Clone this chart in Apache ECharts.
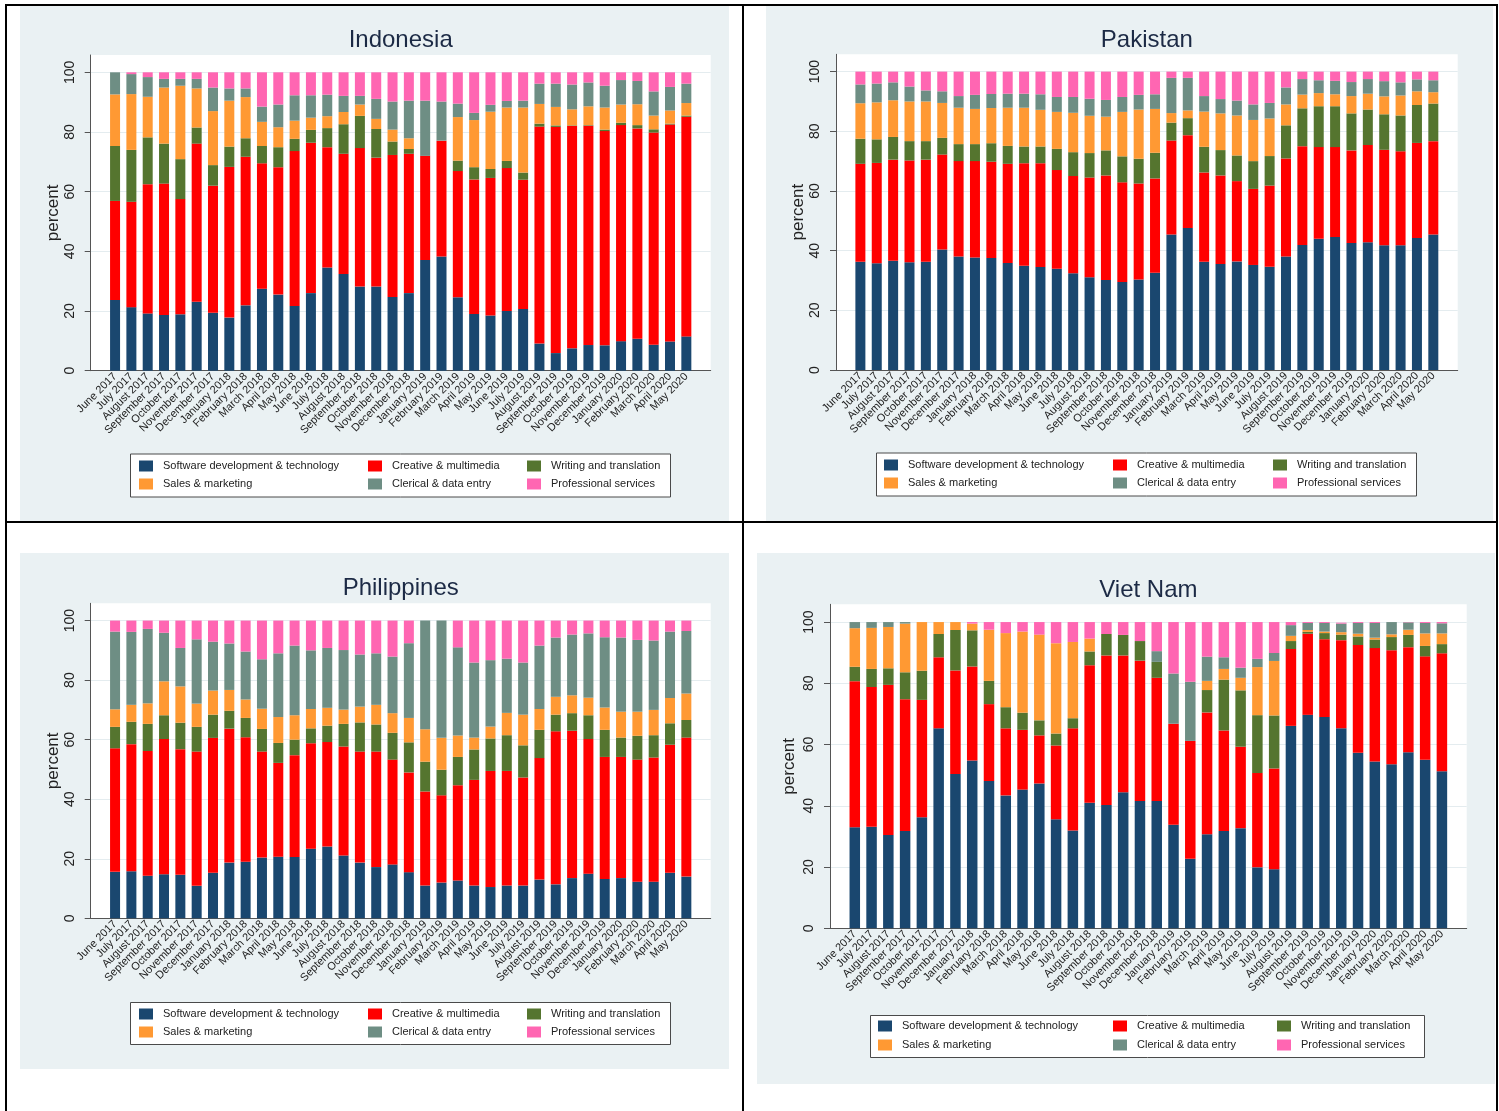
<!DOCTYPE html>
<html>
<head>
<meta charset="utf-8">
<script src="https://cdn.jsdelivr.net/npm/echarts@6/dist/echarts.min.js"></script>
<style>
  html, body { margin:0; padding:0; background:#fff; }
  #page { position:relative; width:1499px; height:1111px; overflow:hidden; background:#fff; }
  .chart { position:absolute; background:#eaf1f3; }
  .ln { position:absolute; background:#000; }
</style>
</head>
<body>
<div id="page">
  <div class="ln" style="left:5px;top:4px;width:1493px;height:2px"></div>
  <div class="ln" style="left:5px;top:4px;width:2px;height:1107px"></div>
  <div class="ln" style="left:742px;top:4px;width:2px;height:1107px"></div>
  <div class="ln" style="left:5px;top:521px;width:1493px;height:2px"></div>
  <div class="ln" style="left:1496px;top:4px;width:2px;height:1107px"></div>
  <div class="chart" id="c1"></div>
  <div class="chart" id="c2"></div>
  <div class="chart" id="c3"></div>
  <div class="chart" id="c4"></div>
</div>
<script>
// ---- categories ----
const months = ['June 2017','July 2017','August 2017','September 2017','October 2017','November 2017','December 2017','January 2018','February 2018','March 2018','April 2018','May 2018','June 2018','July 2018','August 2018','September 2018','October 2018','November 2018','December 2018','January 2019','February 2019','March 2019','April 2019','May 2019','June 2019','July 2019','August 2019','September 2019','October 2019','November 2019','December 2019','January 2020','February 2020','March 2020','April 2020','May 2020'];
const seriesNames = ['Software development & technology','Creative & multimedia','Writing and translation','Sales & marketing','Clerical & data entry','Professional services'];
const yTicks = [0,20,40,60,80,100];

// ---- Indonesia ----
const idnSoftware = [23.7,21.3,19.2,18.7,18.9,23.1,19.4,17.8,21.9,27.5,25.5,21.7,26.0,34.6,32.4,28.2,28.2,24.7,26.0,37.1,38.3,24.6,19.0,18.5,20.0,20.7,9.1,5.9,7.5,8.6,8.5,9.9,10.7,8.7,9.8,11.5];
const idnCreative = [33.2,35.3,43.3,44.0,38.6,53.0,42.6,50.5,49.8,42.0,42.7,51.9,50.4,40.3,40.3,46.4,43.2,47.6,46.7,34.9,38.8,42.3,45.1,46.1,47.9,43.3,72.7,75.8,74.5,73.5,71.8,72.4,70.5,71.1,72.7,73.6];
const idnWriting = [18.4,17.4,15.7,13.4,13.4,5.4,6.9,6.8,6.2,5.8,6.7,4.1,4.3,6.4,9.9,10.8,9.6,4.5,1.6,0,0,3.5,4.1,3.0,2.4,2.4,1.0,0.5,0.2,0.2,0.5,0.8,1.1,1.1,0.3,0.4];
const idnSales = [17.3,18.7,13.6,18.8,24.6,13.1,18.1,15.4,13.8,8.1,6.7,6.1,4.1,4.0,4.1,3.8,3.4,4.0,3.6,0,0,14.6,15.8,19.2,17.9,21.8,6.6,6.2,5.4,6.3,7.4,6.1,7.0,4.6,4.4,4.2];
const idnClerical = [7.4,6.7,6.6,2.9,2.3,3.2,7.9,4.1,2.9,5.1,7.6,8.5,7.5,7.2,5.4,2.9,6.7,9.4,12.6,18.5,13.1,4.5,2.4,2.3,2.2,2.3,6.8,7.8,8.3,8.0,7.3,8.2,7.8,8.1,7.9,6.5];
const idnProfessional = [0,0.6,1.6,2.2,2.2,2.2,5.1,5.4,5.4,11.5,10.8,7.7,7.7,7.5,7.9,7.9,8.9,9.8,9.5,9.5,9.8,10.5,13.6,10.9,9.6,9.5,3.8,3.8,4.1,3.4,4.5,2.6,2.9,6.4,4.9,3.8];

// ---- Pakistan ----
const pakSoftware = [36.3,35.8,36.6,36.1,36.3,40.4,38.0,37.7,37.5,35.9,34.9,34.5,33.9,32.4,31.1,30.2,29.5,30.3,32.6,45.4,47.6,36.3,35.5,36.4,35.2,34.6,38.0,41.9,44.0,44.6,42.6,42.8,41.8,41.8,44.2,45.4];
const pakCreative = [32.8,33.6,33.9,34.1,34.2,31.8,32.0,32.3,32.3,33.2,34.4,34.8,33.1,32.6,33.4,35.0,33.4,32.2,31.6,31.5,31.1,29.9,29.7,26.9,25.5,27.2,32.9,33.1,30.7,30.1,31.0,32.6,32.0,31.5,31.9,31.3];
const pakWriting = [8.4,7.9,7.6,6.5,6.2,5.6,5.7,5.7,6.2,6.0,5.6,5.6,7.1,8.0,8.2,8.4,8.7,8.3,8.6,6.0,5.7,8.6,8.5,8.6,9.3,9.9,11.1,12.7,13.7,13.7,12.4,11.9,11.9,12.0,12.7,12.6];
const pakSales = [11.9,12.4,12.3,13.3,13.3,11.7,12.2,11.8,11.8,12.8,13.0,12.3,12.4,13.2,12.5,11.3,14.9,16.5,14.7,3.2,2.6,11.8,12.3,13.4,13.8,12.6,7.0,4.6,4.4,4.0,5.8,5.3,6.0,6.7,4.6,3.8];
const pakClerical = [6.3,6.3,6.0,5.0,3.7,3.9,3.9,4.7,4.7,4.7,4.7,5.2,5.0,5.3,5.7,5.6,5.0,4.9,4.9,11.8,10.9,5.2,4.8,5.0,5.2,5.2,5.7,5.2,4.3,4.5,4.7,4.9,5.1,4.4,4.0,4.0];
const pakProfessional = [4.3,4.0,3.6,5.0,6.3,6.6,8.2,7.8,7.5,7.4,7.4,7.6,8.5,8.5,9.1,9.5,8.5,7.8,7.6,2.1,2.1,8.2,9.2,9.7,11.0,10.5,5.3,2.5,2.9,3.1,3.5,2.5,3.2,3.6,2.6,2.9];

// ---- Philippines ----
const phlSoftware = [15.6,15.8,14.3,14.8,14.6,10.9,15.3,18.7,19.0,20.4,20.7,20.6,23.4,24.1,21.1,18.7,17.2,18.1,15.5,11.0,12.0,12.7,11.0,10.5,11.0,11.0,13.0,11.4,13.5,15.0,13.2,13.5,12.3,12.3,15.3,14.0];
const phlCreative = [41.5,42.7,41.9,45.4,42.2,45.1,45.3,45.0,41.8,35.6,31.5,34.2,35.4,35.1,36.6,37.3,38.8,35.2,33.5,31.6,29.3,32.0,35.5,39.0,38.5,36.3,40.8,51.4,49.5,45.2,41.0,40.7,41.0,41.7,43.0,46.7];
const phlWriting = [7.2,7.5,9.1,8.0,8.9,8.3,7.8,6.0,6.5,7.6,6.7,5.2,5.0,5.5,7.6,9.8,9.1,9.0,10.1,10.0,8.6,9.5,10.2,10.9,12.0,10.8,9.5,5.6,5.9,8.0,9.1,6.5,8.0,7.5,7.2,5.9];
const phlSales = [5.9,5.7,6.9,11.4,12.2,7.8,8.1,7.0,6.2,6.8,8.7,8.2,6.5,6.0,4.8,5.3,6.6,6.6,8.2,10.9,10.7,7.2,4.0,4.0,7.5,10.3,7.0,6.0,6.0,5.9,7.5,8.7,8.1,8.5,8.5,8.9];
const phlClerical = [26.1,24.5,25.0,16.3,12.9,21.6,16.4,15.6,16.1,16.6,21.4,23.4,19.7,20.1,20.0,17.5,17.3,19.0,25.1,36.5,39.4,29.6,25.2,22.3,18.2,17.5,21.3,19.9,20.4,21.6,23.6,24.9,24.1,23.3,22.3,21.0];
const phlProfessional = [3.7,3.8,2.8,4.1,9.2,6.3,7.1,7.7,10.4,13.0,11.0,8.4,10.0,9.2,9.9,11.4,11.0,12.1,7.6,0,0,9.0,14.1,13.3,12.8,14.1,8.4,5.7,4.7,4.3,5.6,5.7,6.5,6.7,3.7,3.5];

// ---- Viet Nam ----
const vnmSoftware = [33.0,33.2,30.5,31.8,36.3,65.3,50.4,54.8,48.1,43.4,45.3,47.3,35.6,31.9,41.0,40.3,44.4,41.6,41.6,33.8,22.7,30.7,31.8,32.7,19.9,19.3,66.1,69.7,69.0,65.3,57.3,54.5,53.6,57.5,55.0,51.3];
const vnmCreative = [47.7,45.6,49.0,43.0,38.3,23.2,33.8,30.7,25.1,21.9,19.5,15.7,24.1,33.4,44.9,48.8,44.7,45.8,40.2,33.0,38.5,39.8,32.8,26.6,30.8,32.9,25.1,26.5,25.4,28.8,35.2,37.0,37.2,34.3,33.8,38.5];
const vnmWriting = [4.7,5.9,5.4,8.8,9.5,7.6,13.2,11.8,7.6,6.9,5.6,4.9,3.9,3.3,4.5,7.0,6.7,6.4,5.2,0,0,7.3,16.6,18.4,18.9,17.3,2.6,0.6,2.0,1.8,2.8,2.8,4.3,4.0,3.4,3.0];
const vnmSales = [12.6,13.4,13.5,15.9,15.9,3.9,2.6,2.2,16.7,24.2,26.5,28.0,29.5,24.9,4.2,0,0,0,0,0,0,3.0,3.5,4.1,15.7,17.8,1.7,0.6,0.5,0.8,0.9,0.6,0.9,1.7,4.1,3.5];
const vnmClerical = [2.0,1.9,1.6,0.5,0,0,0,0,0,0,0,0,0,0,0,0,0,0,3.5,16.4,19.3,7.9,3.8,3.3,2.7,2.6,3.5,2.3,2.8,2.8,3.5,4.8,4.0,2.4,3.4,3.3];
const vnmProfessional = [0,0,0,0,0,0,0,0.5,2.5,3.6,3.1,4.1,6.9,6.5,5.4,3.9,4.2,6.2,9.5,16.8,19.5,11.3,11.5,14.9,12.0,10.1,1.0,0.3,0.3,0.3,0.3,0.3,0,0.1,0.3,0.4];

// ---- layout (page coordinates) ----
const colors = ['#1a476f','#ff0000','#55752f','#ff9933','#6e8e84','#ff66b2'];
const FONT = '"Liberation Sans", Arial, sans-serif';
const panels = [
  { id:'c1', title:'Indonesia', titleY:38, box:[20,6,709,515], grid:[90.7,55,710.7,370.7], pad:16.2, nameGap:29,
    values:[idnSoftware,idnCreative,idnWriting,idnSales,idnClerical,idnProfessional],
    lbox:[130,453.5,540,43], cols:[139,368,527], row1:466, rowGap:18, barW:10 },
  { id:'c2', title:'Pakistan', titleY:38, box:[766,6,727,515], grid:[836,54.3,1457.7,370], pad:16.2, nameGap:29,
    values:[pakSoftware,pakCreative,pakWriting,pakSales,pakClerical,pakProfessional],
    lbox:[876,452.5,540,43], cols:[884,1113,1273], row1:465, rowGap:18, barW:10 },
  { id:'c3', title:'Philippines', titleY:586, box:[20,553,709,516], grid:[90.7,603.3,710.7,918.3], pad:16.2, nameGap:29,
    values:[phlSoftware,phlCreative,phlWriting,phlSales,phlClerical,phlProfessional],
    lbox:[130,1002,540,42], cols:[139,368,527], row1:1014, rowGap:18, barW:10 },
  { id:'c4', title:'Viet Nam', titleY:588, box:[757,553,738,531], grid:[830,604.3,1466.7,928.3], pad:16.4, nameGap:32,
    values:[vnmSoftware,vnmCreative,vnmWriting,vnmSales,vnmClerical,vnmProfessional],
    lbox:[870,1015,554,42], cols:[878,1113,1277], row1:1026, rowGap:19, barW:10.5 }
];

const YMAX = 105.8;

function makeChart(p) {
  const el = document.getElementById(p.id);
  const [ox, oy, w, h] = p.box;
  el.style.left = ox+'px'; el.style.top = oy+'px';
  el.style.width = w+'px'; el.style.height = h+'px';
  const chart = echarts.init(el, null, {renderer:'canvas'});
  const gl = p.grid[0]-ox, gt = p.grid[1]-oy, gw = p.grid[2]-p.grid[0], gh = p.grid[3]-p.grid[1];
  const series = p.values.map((arr,k)=>({
    name: seriesNames[k], type:'bar', stack:'total', barWidth:p.barW,
    xAxisIndex:1, yAxisIndex:1,
    data: arr,
    itemStyle:{color:colors[k]}, emphasis:{disabled:true}
  }));
  const colItems = [[0,3],[1,4],[2,5]];
  const legends = colItems.map((c,ci)=>({
    orient:'vertical', left:p.cols[ci]-ox, top:p.row1-oy-5.5, padding:0,
    itemWidth:14, itemHeight:11, itemGap:p.rowGap-11, icon:'rect', selectedMode:false,
    data:c.map(k=>seriesNames[k]),
    textStyle:{fontSize:11, color:'#222', lineHeight:11, padding:[0,0,0,5], fontFamily:FONT}
  }));
  chart.setOption({
    animation:false,
    textStyle:{fontFamily:FONT},
    title:{ text:p.title, left:gl+gw/2, textAlign:'center', top:p.titleY-oy-10, padding:0,
      textStyle:{fontSize:24, fontWeight:'normal', color:'#1c2a45', fontFamily:FONT} },
    graphic:[
      { type:'rect', left:p.lbox[0]-ox, top:p.lbox[1]-oy, shape:{width:p.lbox[2], height:p.lbox[3]},
        style:{fill:'#ffffff', stroke:'#4a4a4a', lineWidth:1}, z:-5, silent:true }
    ],
    legend: legends,
    grid:[
      { left:gl, top:gt, width:gw, height:gh, containLabel:false, show:true, backgroundColor:'#ffffff', borderWidth:0 },
      { left:gl+p.pad, top:gt, width:gw-2*p.pad, height:gh, containLabel:false }
    ],
    xAxis:[
      { type:'value', gridIndex:0, min:0, max:1,
        axisLine:{show:true, onZero:false, lineStyle:{color:'#555', width:1}},
        axisTick:{show:false}, splitLine:{show:false}, axisLabel:{show:false} },
      { type:'category', gridIndex:1, data:months, boundaryGap:true,
        axisLine:{show:false}, axisTick:{show:false}, splitLine:{show:false},
        axisLabel:{ interval:0, rotate:45, fontSize:11, color:'#222', margin:4 } }
    ],
    yAxis:[
      { type:'value', gridIndex:0, min:0, max:YMAX, interval:20,
        name:'percent', nameLocation:'middle', nameGap:p.nameGap, nameRotate:90, nameMoveOverlap:false,
        nameTextStyle:{fontSize:17, color:'#222'},
        axisLine:{show:true, lineStyle:{color:'#555', width:1}},
        axisTick:{show:true, length:6, customValues:yTicks, lineStyle:{color:'#555'}},
        axisLabel:{ customValues:yTicks, rotate:90, fontSize:14, color:'#222', margin:14 },
        splitLine:{show:true, lineStyle:{color:'#e4ecef', width:1}} },
      { type:'value', gridIndex:1, min:0, max:YMAX, show:false, splitLine:{show:false} }
    ],
    series: series
  });
}
panels.forEach(makeChart);
</script>
</body>
</html>
